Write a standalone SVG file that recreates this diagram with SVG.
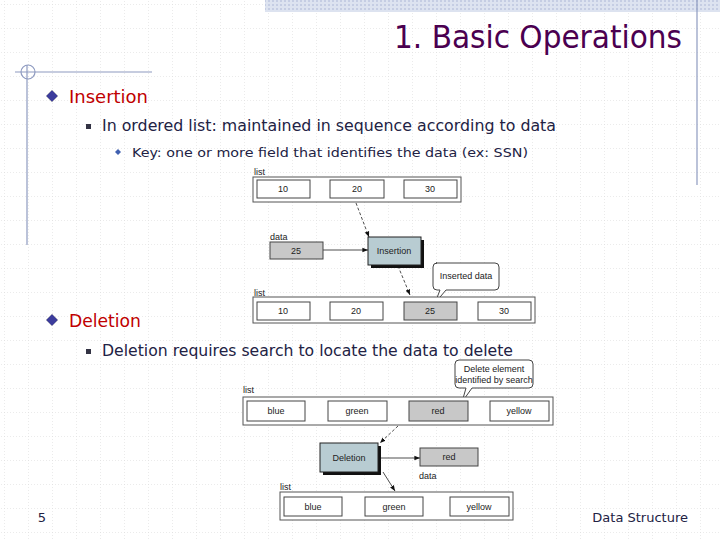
<svg xmlns="http://www.w3.org/2000/svg" width="720" height="540" viewBox="0 0 720 540">
<defs>
<pattern id="grid" width="24" height="24" patternUnits="userSpaceOnUse" x="4" y="4">
<path d="M0 0H24M0 0V24" fill="none" stroke="#d8d8d8" stroke-width="1" stroke-dasharray="1 2"/>
</pattern>
<pattern id="bar" width="4" height="4" patternUnits="userSpaceOnUse">
<rect width="4" height="4" fill="#dde3f0"/><rect width="2" height="2" fill="#c5cde3"/>
</pattern>
<marker id="ah" viewBox="0 0 10 10" refX="10" refY="5" markerWidth="7" markerHeight="7" orient="auto"><path d="M0 1L10 5L0 9z" fill="#111"/></marker>
</defs>
<style>
.t{font-family:"DejaVu Sans",sans-serif}
.s{font-family:"Liberation Sans",Arial,sans-serif;font-size:9px;fill:#222}
.c{font-family:"Liberation Sans",Arial,sans-serif;font-size:9px;fill:#222;text-anchor:middle}
.outer{fill:#fff;stroke:#555;stroke-width:1}
.cell{fill:#fff;stroke:#444;stroke-width:1}
.g{fill:#c8c8c8;stroke:#444;stroke-width:1}
.op{fill:#b8ccd2;stroke:#222;stroke-width:1}
.sh{fill:#111}
.ln{stroke:#222;stroke-width:0.8;fill:none;marker-end:url(#ah)}
.dl{stroke:#222;stroke-width:0.8;fill:none;stroke-dasharray:3 2;marker-end:url(#ah)}
.call{fill:#fff;stroke:#444;stroke-width:1}
</style>
<rect width="720" height="540" fill="#fff"/>
<rect width="720" height="540" fill="url(#grid)"/>
<rect x="265" y="0" width="455" height="12" fill="url(#bar)"/>
<line x1="697" y1="0" x2="697" y2="185" stroke="#8e9ac0" stroke-width="1.2"/>
<line x1="15" y1="72" x2="152" y2="72" stroke="#8e9ac0" stroke-width="1.2"/>
<line x1="27" y1="65" x2="27" y2="245" stroke="#8e9ac0" stroke-width="1.2"/>
<circle cx="28" cy="72" r="7" fill="none" stroke="#8e9ac0" stroke-width="1.2"/>
<text class="t" x="682" y="48" font-size="32" fill="#4b0050" text-anchor="end" textLength="288" lengthAdjust="spacingAndGlyphs">1. Basic Operations</text>
<g id="bullets">
<path d="M52 90L58 96L52 102L46 96z" fill="#3c3c9c" stroke="#aab" stroke-width="1"/>
<text class="t" x="69" y="103" font-size="18" fill="#c00000" textLength="79" lengthAdjust="spacingAndGlyphs">Insertion</text>
<rect x="86" y="124" width="5" height="5" fill="#334"/>
<text class="t" x="102" y="131" font-size="15" fill="#222244" textLength="454" lengthAdjust="spacingAndGlyphs">In ordered list: maintained in sequence according to data</text>
<path d="M118 149L121 152L118 155L115 152z" fill="#4060b0"/>
<text class="t" x="132" y="157" font-size="13" fill="#222244" textLength="396" lengthAdjust="spacingAndGlyphs">Key: one or more field that identifies the data (ex: SSN)</text>
<path d="M52 314L58 320L52 326L46 320z" fill="#3c3c9c" stroke="#aab" stroke-width="1"/>
<text class="t" x="69" y="327" font-size="18" fill="#c00000" textLength="72" lengthAdjust="spacingAndGlyphs">Deletion</text>
<rect x="86" y="349" width="5" height="5" fill="#334"/>
<text class="t" x="102" y="356" font-size="15" fill="#222244" textLength="411" lengthAdjust="spacingAndGlyphs">Deletion requires search to locate the data to delete</text>
<text class="t" x="42" y="522" font-size="13" fill="#222244" text-anchor="middle">5</text>
<text class="t" x="688" y="522" font-size="13" fill="#222244" text-anchor="end">Data Structure</text>
</g>
<g id="connectors">
<path class="dl" d="M356 203L369 237"/>
<path class="ln" d="M323 250L368 250"/>
<path class="dl" d="M398 266L410 295"/>
<path class="dl" d="M398 426L380 443"/>
<path class="ln" d="M378 458L420 458"/>
<path class="ln" d="M383 472L395 491"/>
</g>
<g id="list1">
<text class="s" x="254" y="175">list</text>
<rect class="outer" x="253" y="177" width="208" height="25"/>
<rect class="cell" x="257" y="180" width="53" height="18"/><text class="c" x="283" y="192">10</text>
<rect class="cell" x="330" y="180" width="54" height="18"/><text class="c" x="357" y="192">20</text>
<rect class="cell" x="404" y="180" width="53" height="18"/><text class="c" x="430" y="192">30</text>
</g>
<g id="data25">
<text class="s" x="270" y="240">data</text>
<rect class="g" x="270" y="242" width="53" height="17"/><text class="c" x="296" y="254">25</text>
</g>
<g id="insertion">
<rect class="sh" x="371" y="240" width="53" height="28"/>
<rect class="op" x="368" y="237" width="53" height="28"/><text class="c" x="394" y="254">Insertion</text>
</g>
<g id="inserted-callout">
<path class="call" d="M436 263H495Q499 263 499 267V286Q499 290 495 290H446L435 303L440 290H437Q433 290 433 286V267Q433 263 437 263z"/>
<text class="c" x="466" y="279">Inserted data</text>
</g>
<g id="list2">
<text class="s" x="254" y="296">list</text>
<rect class="outer" x="253" y="297" width="282" height="26"/>
<rect class="cell" x="257" y="302" width="53" height="18"/><text class="c" x="283" y="314">10</text>
<rect class="cell" x="330" y="302" width="53" height="18"/><text class="c" x="356" y="314">20</text>
<rect class="g" x="404" y="302" width="53" height="18"/><text class="c" x="430" y="314">25</text>
<rect class="cell" x="478" y="302" width="53" height="18"/><text class="c" x="504" y="314">30</text>
</g>
<g id="delete-callout">
<path class="call" d="M459 360H529Q533 360 533 364V384Q533 388 529 388H472L462 402L466 388H459Q455 388 455 384V364Q455 360 459 360z"/>
<text class="c" x="494" y="372" font-size="8">Delete element</text>
<text class="c" x="494" y="383" font-size="8">identified by search</text>
</g>
<g id="list3">
<text class="s" x="243" y="393">list</text>
<rect class="outer" x="243" y="397" width="310" height="28"/>
<rect class="cell" x="247" y="401" width="58" height="20"/><text class="c" x="276" y="414">blue</text>
<rect class="cell" x="328" y="401" width="59" height="20"/><text class="c" x="357" y="414">green</text>
<rect class="g" x="409" y="401" width="59" height="20"/><text class="c" x="438" y="414">red</text>
<rect class="cell" x="490" y="401" width="59" height="20"/><text class="c" x="519" y="414">yellow</text>
</g>
<g id="deletion">
<rect class="sh" x="323" y="446" width="58" height="29"/>
<rect class="op" x="320" y="443" width="58" height="29"/><text class="c" x="349" y="461">Deletion</text>
</g>
<g id="datared">
<rect class="g" x="420" y="448" width="58" height="18"/><text class="c" x="449" y="460">red</text>
<text class="s" x="419" y="479">data</text>
</g>
<g id="list4">
<text class="s" x="280" y="490">list</text>
<rect class="outer" x="280" y="492" width="233" height="28"/>
<rect class="cell" x="284" y="497" width="58" height="19"/><text class="c" x="313" y="510">blue</text>
<rect class="cell" x="365" y="497" width="58" height="19"/><text class="c" x="394" y="510">green</text>
<rect class="cell" x="450" y="497" width="59" height="19"/><text class="c" x="479" y="510">yellow</text>
</g>
</svg>
